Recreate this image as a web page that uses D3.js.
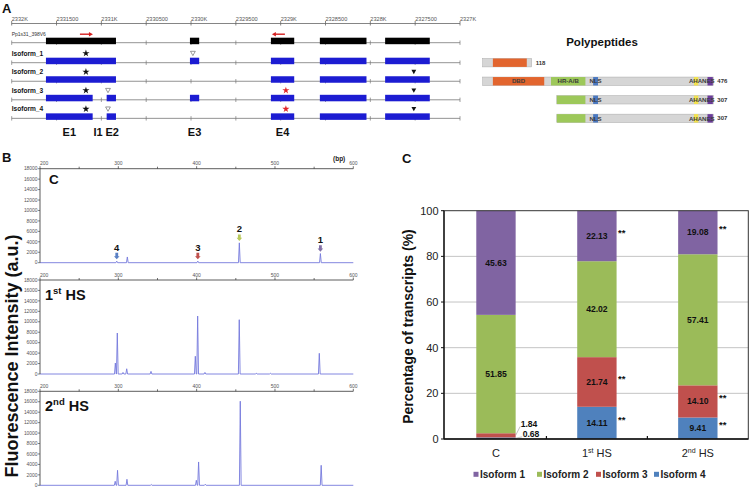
<!DOCTYPE html>
<html><head><meta charset="utf-8">
<script src="https://cdn.jsdelivr.net/npm/d3@7/dist/d3.min.js"></script>
<style>html,body{margin:0;padding:0;background:#fff;}svg{display:block;font-family:"Liberation Sans",Arial,Helvetica,sans-serif;}</style>
</head><body><svg id="fig" width="750" height="488"></svg>
<script>
// ================= DATA =================
// Panel A: gene model (genomic coordinates)
const geneTicks = [2332000,2331500,2331000,2330500,2330000,2329500,2329000,2328500,2328000,2327500,2327000];
const geneTickLabels = ["2332K","2331500","2331K","2330500","2330K","2329500","2329K","2328500","2328K","2327500","2327K"];
const refModelName = "Pp1s31_398V6";
const refExons = [[2331618,2330837],[2330012,2329909],[2329109,2328849],[2328563,2328043],[2327835,2327337]];
const primerArrows = [[2331239,2331094],[2328953,2329098]];
const isoformNames = ["Isoform_1","Isoform_2","Isoform_3","Isoform_4"];
const isoformExons = [
  [[2331618,2330837],[2330012,2329909],[2329109,2328849],[2328563,2328043],[2327835,2327337]],
  [[2331618,2330837],[2329109,2328849],[2328563,2328043],[2327835,2327337]],
  [[2331618,2331097],[2330941,2330837],[2330012,2329909],[2329109,2328849],[2328563,2328043],[2327835,2327337]],
  [[2331618,2331097],[2330941,2330837],[2329109,2328849],[2328563,2328043],[2327835,2327337]]
];
const isoformMarks = [
  [["star",2331172],["open",2329979]],
  [["star",2331172],["filled",2327515]],
  [["star",2331172],["open",2330926],["redstar",2328942],["filled",2327515]],
  [["star",2331172],["open",2330926],["redstar",2328942],["filled",2327515]]
];
const exonLabelNames = ["E1","I1","E2","E3","E4"];
const exonLabelSpans = [[2331618,2331097],[2331097,2330941],[2330941,2330837],[2330012,2329909],[2329109,2328849]];

// Panel A: polypeptides (amino-acid units)
const peptideLengthLabels = ["118","476","307","307"];
const peptideSpans = [[0,101],[0,476],[153,476],[153,476]];
const peptideDomains = [
  [["DBD",21,91,""]],
  [["DBD",21,127,"DBD"],["HR-A/B",141,212,"HR-A/B"],["NLS",228,238,"NLS"],["AHA",436,445,"AHA"],["NES",464,475,"NES"]],
  [["HR-A/B",153,212,""],["NLS",228,238,"NLS"],["AHA",436,445,"AHA"],["NES",464,475,"NES"]],
  [["HR-A/B",153,212,""],["NLS",228,238,"NLS"],["AHA",436,445,"AHA"],["NES",464,475,"NES"]]
];

// Panel B: capillary electrophoresis traces [bp, intensity]
const bpTicks = [200,300,400,500,600];
const bpMinorTicks = [250,350,450,550];
const intensityTicks = [0,2000,4000,6000,8000,10000,12000,14000,16000,18000];
const sampleNames = ["C","1st HS","2nd HS"];
const peaksC = [[298,300],[311.5,1100],[401.5,300],[454.5,3800],[558,1750]];
const peaks1HS = [[296.2,2100],[298.7,7850],[306,300],[310.7,1000],[341.7,500],[398.3,3400],[401.3,11100],[410.6,300],[454.4,10400],[476,150],[494,150],[556.6,3960]];
const peaks2HS = [[296,770],[299,2870],[311,1150],[342,150],[399.6,960],[402.5,4470],[411,200],[455.7,16100],[559,3830]];
const peakMarkerNames = ["1","2","3","4"];
const peakMarkerBp = [558,454.5,401.5,298];
const peakMarkerSignal = [1750,3800,300,300];

// Panel C: percentage of transcripts
const categories = ["C","1st HS","2nd HS"];
const isoform1 = [45.63,22.13,19.08];
const isoform2 = [51.85,42.02,57.41];
const isoform3 = [1.84,21.74,14.10];
const isoform4 = [0.68,14.11,9.41];
const sig1 = ["","**","**"];
const sig2 = ["","",""];
const sig3 = ["","**","**"];
const sig4 = ["","**","**"];
const pctTicks = [0,20,40,60,80,100];
const seriesNames = ["Isoform 1","Isoform 2","Isoform 3","Isoform 4"];

// ================= DRAW =================
const svg = d3.select("#fig");
svg.append("rect").attr("width",750).attr("height",488).attr("fill","#fff");

function panelLabel(t,x,y){
  svg.append("text").attr("x",x).attr("y",y).attr("font-size",13).attr("font-weight","bold").attr("fill","#111").text(t);
}
panelLabel("A",2,12.5);
panelLabel("B",2,161.5);
panelLabel("C",402,163);

// ---------- Panel A: gene structure ----------
const xG = d3.scaleLinear().domain([2332000,2327000]).range([11.7,460]);
const gA = svg.append("g");
const axisY = 23.5;
gA.append("line").attr("x1",xG(2332000)).attr("x2",xG(2327000)).attr("y1",axisY).attr("y2",axisY)
  .attr("stroke","#666").attr("stroke-width",0.8);
geneTicks.forEach((t,i)=>{
  gA.append("line").attr("x1",xG(t)).attr("x2",xG(t)).attr("y1",axisY-2.5).attr("y2",axisY+2)
    .attr("stroke","#666").attr("stroke-width",0.8);
  gA.append("text").attr("x",xG(t)).attr("y",axisY-2.6).attr("font-size",5.6).attr("fill","#555").text(geneTickLabels[i]);
});
const rowYs = [42.7].concat(isoformNames.map((d,i)=>62.7+i*18.55));
function rowLine(y){
  gA.append("line").attr("x1",xG(2332000)).attr("x2",xG(2327000)).attr("y1",y).attr("y2",y)
    .attr("stroke","#777").attr("stroke-width",0.8);
  geneTicks.forEach(t=>{
    gA.append("line").attr("x1",xG(t)).attr("x2",xG(t)).attr("y1",y-2.2).attr("y2",y+2.2)
      .attr("stroke","#777").attr("stroke-width",0.7);
  });
}
function exonBoxes(exons,y,fill){
  gA.selectAll(null).data(exons).enter().append("rect")
    .attr("x",d=>xG(d[0])).attr("width",d=>xG(d[1])-xG(d[0]))
    .attr("y",y-5).attr("height",6.5).attr("fill",fill);
}
rowLine(rowYs[0]);
exonBoxes(refExons,rowYs[0],"#000");
gA.append("text").attr("x",11.7).attr("y",35.5).attr("font-size",5).attr("fill","#333").text(refModelName);
primerArrows.forEach(([a,b])=>{
  const x1=xG(a), x2=xG(b), y=34.2, dir = x2>x1?1:-1;
  gA.append("line").attr("x1",x1).attr("x2",x2-dir*3).attr("y1",y).attr("y2",y).attr("stroke","#d41f1f").attr("stroke-width",1.4);
  gA.append("path").attr("d",`M${x2},${y} L${x2-dir*4},${y-2.3} L${x2-dir*4},${y+2.3} Z`).attr("fill","#d41f1f");
});
isoformNames.forEach((name,i)=>{
  const y = rowYs[i+1];
  rowLine(y);
  exonBoxes(isoformExons[i],y,"#1c1cd2");
  gA.append("text").attr("x",11.7).attr("y",y-7.2).attr("font-size",6.6).attr("font-weight","bold").attr("fill","#111").text(name);
  isoformMarks[i].forEach(([type,pos])=>{
    const mx = xG(pos), my = y-9.4;
    if(type==="star"||type==="redstar"){
      gA.append("path").attr("d",d3.symbol(d3.symbolStar,16)()).attr("transform",`translate(${mx},${my})`)
        .attr("fill",type==="star"?"#111":"#e0262a");
    } else {
      gA.append("path").attr("d",`M${mx-2.4},${my-2} L${mx+2.4},${my-2} L${mx},${my+2.3} Z`)
        .attr("fill",type==="filled"?"#111":"#fff").attr("stroke",type==="filled"?"none":"#555").attr("stroke-width",0.6);
    }
  });
});
exonLabelNames.forEach((n,i)=>{
  const cx = (xG(exonLabelSpans[i][0])+xG(exonLabelSpans[i][1]))/2;
  gA.append("text").attr("x",cx).attr("y",136).attr("dx",n==="I1"?-1.5:(n==="E2"?0.8:0)).attr("text-anchor","middle").attr("font-size",11)
    .attr("font-weight","bold").attr("fill","#111").text(n);
});

// ---------- Panel A: polypeptides ----------
const xP = d3.scaleLinear().domain([0,476]).range([482.7,713.3]);
const domainColors = {"DBD":"#e2652e","HR-A/B":"#9dc85a","NLS":"#4a78c0","AHA":"#f3e24e","NES":"#6b3c9b"};
svg.append("text").attr("x",602).attr("y",45.5).attr("text-anchor","middle").attr("font-size",11.5)
  .attr("font-weight","bold").attr("fill","#111").text("Polypeptides");
peptideSpans.forEach((sp,i)=>{
  const cy = rowYs[i+1], h=8.4;
  const g = svg.append("g");
  g.append("rect").attr("x",xP(sp[0])).attr("width",xP(sp[1])-xP(sp[0])).attr("y",cy-h/2).attr("height",h)
    .attr("fill","#d6d6d6").attr("stroke","#a8a8a8").attr("stroke-width",0.5);
  peptideDomains[i].forEach(([name,s,e,lab])=>{
    g.append("rect").attr("x",xP(s)).attr("width",xP(e)-xP(s)).attr("y",cy-h/2).attr("height",h)
      .attr("fill",domainColors[name]);
  });
  const doms = peptideDomains[i];
  const aha = doms.find(d=>d[0]==="AHA"), nes = doms.find(d=>d[0]==="NES");
  const joint = (aha && nes) ? (xP(aha[2])+xP(nes[1]))/2 - 0.8 : null;
  doms.forEach(([name,s,e,lab])=>{
    if(!lab) return;
    let x=(xP(s)+xP(e))/2, anchor="middle";
    if(name==="AHA"&&joint!==null){x=joint;anchor="end";}
    if(name==="NES"&&joint!==null){x=joint;anchor="start";}
    g.append("text").attr("x",x).attr("y",cy+2.2).attr("text-anchor",anchor)
      .attr("font-size",6.1).attr("font-weight","bold").attr("fill","#3a3a3a").text(lab);
  });
  g.append("text").attr("x",xP(sp[1])+4).attr("y",cy+2.1).attr("font-size",6).attr("font-weight","bold")
    .attr("fill","#333").text(peptideLengthLabels[i]);
});

// ---------- Panel B: traces ----------
const xB = d3.scaleLinear().domain([200,600]).range([40,353.3]);
const traces = [peaksC,peaks1HS,peaks2HS];
const markerColors = ["#8371a8","#b9c95b","#c0504d","#5a80c4"];
sampleNames.forEach((name,i)=>{
  const top = 168.7+i*111.3, bot = top+94;
  const yB = d3.scaleLinear().domain([0,18000]).range([bot,top]);
  const g = svg.append("g");
  const pts=[[200,0]];
  traces[i].forEach(([bp,h])=>{pts.push([bp-1.1,0],[bp,h],[bp+1.1,0]);});
  pts.push([600,0]);
  g.append("path").attr("d",d3.line().x(d=>xB(d[0])).y(d=>yB(d[1]))(pts))
    .attr("fill","none").attr("stroke","#7579dc").attr("stroke-width",0.9).attr("stroke-linejoin","round");
  g.append("line").attr("x1",xB(200)).attr("x2",xB(600)).attr("y1",top).attr("y2",top).attr("stroke","#333").attr("stroke-width",0.8);
  bpTicks.forEach((t,k)=>{
    g.append("line").attr("x1",xB(t)).attr("x2",xB(t)).attr("y1",top-2.5).attr("y2",top).attr("stroke","#333").attr("stroke-width",0.7);
    g.append("text").attr("x",xB(t)).attr("y",top-3.5).attr("text-anchor",k===0?"start":"middle")
      .attr("font-size",5).attr("fill","#555").text(t);
  });
  bpMinorTicks.forEach(t=>{
    g.append("line").attr("x1",xB(t)).attr("x2",xB(t)).attr("y1",top-2).attr("y2",top).attr("stroke","#333").attr("stroke-width",0.7);
  });
  g.append("line").attr("x1",40).attr("x2",40).attr("y1",top).attr("y2",bot).attr("stroke","#333").attr("stroke-width",0.8);
  intensityTicks.forEach(v=>{
    g.append("line").attr("x1",37.8).attr("x2",40).attr("y1",yB(v)).attr("y2",yB(v)).attr("stroke","#333").attr("stroke-width",0.6);
    g.append("text").attr("x",37.5).attr("y",yB(v)+1.7).attr("text-anchor","end").attr("font-size",4.9).attr("fill","#555").text(v);
  });
  const m = name.match(/^(\d)(st|nd)\s(.*)$/);
  if(m){
    const t = g.append("text").attr("x",45).attr("y",top+20).attr("font-size",14.5).attr("font-weight","bold").attr("fill","#111");
    t.append("tspan").text(m[1]);
    t.append("tspan").attr("dy",-6).attr("font-size",9.5).text(m[2]);
    t.append("tspan").attr("dy",6).text(" "+m[3]);
  } else {
    g.append("text").attr("x",49).attr("y",top+15.5).attr("font-size",13.5).attr("font-weight","bold").attr("fill","#111").text(name);
  }
  if(i===0){
    peakMarkerNames.forEach((n,k)=>{
      const cx = xB(peakMarkerBp[k]), tip = yB(peakMarkerSignal[k])-1.8;
      g.append("path").attr("d",`M${cx-1.4},${tip-6.5} L${cx+1.4},${tip-6.5} L${cx+1.4},${tip-3.2} L${cx+2.8},${tip-3.2} L${cx},${tip} L${cx-2.8},${tip-3.2} L${cx-1.4},${tip-3.2} Z`)
        .attr("fill",markerColors[k]);
      g.append("text").attr("x",cx).attr("y",tip-8.8).attr("text-anchor","middle").attr("font-size",9.5)
        .attr("font-weight","bold").attr("fill","#111").text(n);
    });
    g.append("text").attr("x",333).attr("y",161).attr("font-size",6.5).attr("font-weight","bold").attr("fill","#222").text("(bp)");
  }
});
svg.append("text").attr("transform","translate(12,356) rotate(-90)").attr("text-anchor","middle").attr("dy","0.35em")
  .attr("font-size",18).attr("font-weight","bold").attr("fill","#111").text("Fluorescence Intensity (a.u.)");

// ---------- Panel C: stacked bars ----------
const pL=444, pR=748.3, pT=210.7, pB=439;
const xC = d3.scaleBand().domain(categories).range([445.5,748.3]).paddingInner(0.61).paddingOuter(0.305);
const yC = d3.scaleLinear().domain([0,100]).range([pB,pT]);
const gC = svg.append("g");
pctTicks.filter(v=>v>0&&v<100).forEach(v=>{
  gC.append("line").attr("x1",pL).attr("x2",pR).attr("y1",yC(v)).attr("y2",yC(v)).attr("stroke","#c4c4c4").attr("stroke-width",1);
});
const table = categories.map((c,i)=>({cat:c,"Isoform 1":isoform1[i],"Isoform 2":isoform2[i],"Isoform 3":isoform3[i],"Isoform 4":isoform4[i]}));
const sigs = {"Isoform 1":sig1,"Isoform 2":sig2,"Isoform 3":sig3,"Isoform 4":sig4};
const colorsC = {"Isoform 1":"#8064a2","Isoform 2":"#9bbb59","Isoform 3":"#c0504d","Isoform 4":"#4f81bd"};
const stack = d3.stack().keys(["Isoform 4","Isoform 3","Isoform 2","Isoform 1"])(table);
stack.forEach(layer=>{
  gC.selectAll(null).data(layer).enter().append("rect")
    .attr("x",d=>xC(d.data.cat)).attr("width",xC.bandwidth())
    .attr("y",d=>yC(d[1])).attr("height",d=>yC(d[0])-yC(d[1]))
    .attr("fill",colorsC[layer.key]);
});
stack.forEach(layer=>{
  layer.forEach((d,j)=>{
    const v = d[1]-d[0];
    const cx = xC(d.data.cat)+xC.bandwidth()/2, cy = (yC(d[0])+yC(d[1]))/2, right = xC(d.data.cat)+xC.bandwidth();
    if(v>=5){
      gC.append("text").attr("x",cx).attr("y",cy).attr("dy","0.35em").attr("text-anchor","middle")
        .attr("font-size",8.6).attr("font-weight","bold").attr("fill","#111").text(v.toFixed(2));
    } else {
      const off = layer.key==="Isoform 3"?{dx:5,dy:-11.3}:{dx:7,dy:-3.9};
      const ly = cy+off.dy;
      gC.append("line").attr("x1",right).attr("y1",cy).attr("x2",right+off.dx-0.5).attr("y2",ly+2.5)
        .attr("stroke","#999").attr("stroke-width",0.6);
      gC.append("text").attr("x",right+off.dx).attr("y",ly).attr("dy","0.35em")
        .attr("font-size",8.6).attr("font-weight","bold").attr("fill","#111").text(v.toFixed(2));
    }
    const s = sigs[layer.key][j];
    if(s) gC.append("text").attr("x",right+1.5).attr("y",cy).attr("font-size",9.5).attr("font-weight","bold").attr("fill","#111").text(s);
  });
});
gC.append("rect").attr("x",pL).attr("y",pT).attr("width",pR-pL).attr("height",pB-pT).attr("fill","none").attr("stroke","#333").attr("stroke-width",1);
gC.append("line").attr("x1",pL).attr("x2",pR).attr("y1",pB).attr("y2",pB).attr("stroke","#111").attr("stroke-width",1.3);
gC.append("line").attr("x1",pL).attr("x2",pL).attr("y1",pT).attr("y2",pB).attr("stroke","#111").attr("stroke-width",1.3);
pctTicks.forEach(v=>{
  gC.append("line").attr("x1",pL-3).attr("x2",pL).attr("y1",yC(v)).attr("y2",yC(v)).attr("stroke","#111");
  gC.append("text").attr("x",pL-5.5).attr("y",yC(v)).attr("dy","0.35em").attr("text-anchor","end")
    .attr("font-size",11).attr("fill","#222").text(v);
});
categories.slice(1).forEach(c=>{
  const bx = xC(c)-xC.step()*xC.paddingInner()/2;
  gC.append("line").attr("x1",bx).attr("x2",bx).attr("y1",pB-3).attr("y2",pB).attr("stroke","#111").attr("stroke-width",1.2);
});
categories.forEach(c=>{
  const cx = xC(c)+xC.bandwidth()/2;
  const m = c.match(/^(\d)(st|nd)\s(.*)$/);
  const t = gC.append("text").attr("x",cx).attr("y",457).attr("text-anchor","middle").attr("font-size",11).attr("fill","#222");
  if(m){
    t.append("tspan").text(m[1]);
    t.append("tspan").attr("dy",-4).attr("font-size",7).text(m[2]);
    t.append("tspan").attr("dy",4).text(" "+m[3]);
  } else t.text(c);
});
svg.append("text").attr("transform","translate(408,326.5) rotate(-90)").attr("text-anchor","middle").attr("dy","0.35em")
  .attr("font-size",14).attr("font-weight","bold").attr("fill","#111").text("Percentage of transcripts (%)");
const legendX = [473.5,537,596,654];
seriesNames.forEach((n,i)=>{
  gC.append("rect").attr("x",legendX[i]).attr("y",471.8).attr("width",5).attr("height",5).attr("fill",colorsC[n]);
  gC.append("text").attr("x",legendX[i]+6.5).attr("y",478).attr("font-size",10).attr("font-weight","bold").attr("fill","#222").text(n);
});
</script></body></html>
